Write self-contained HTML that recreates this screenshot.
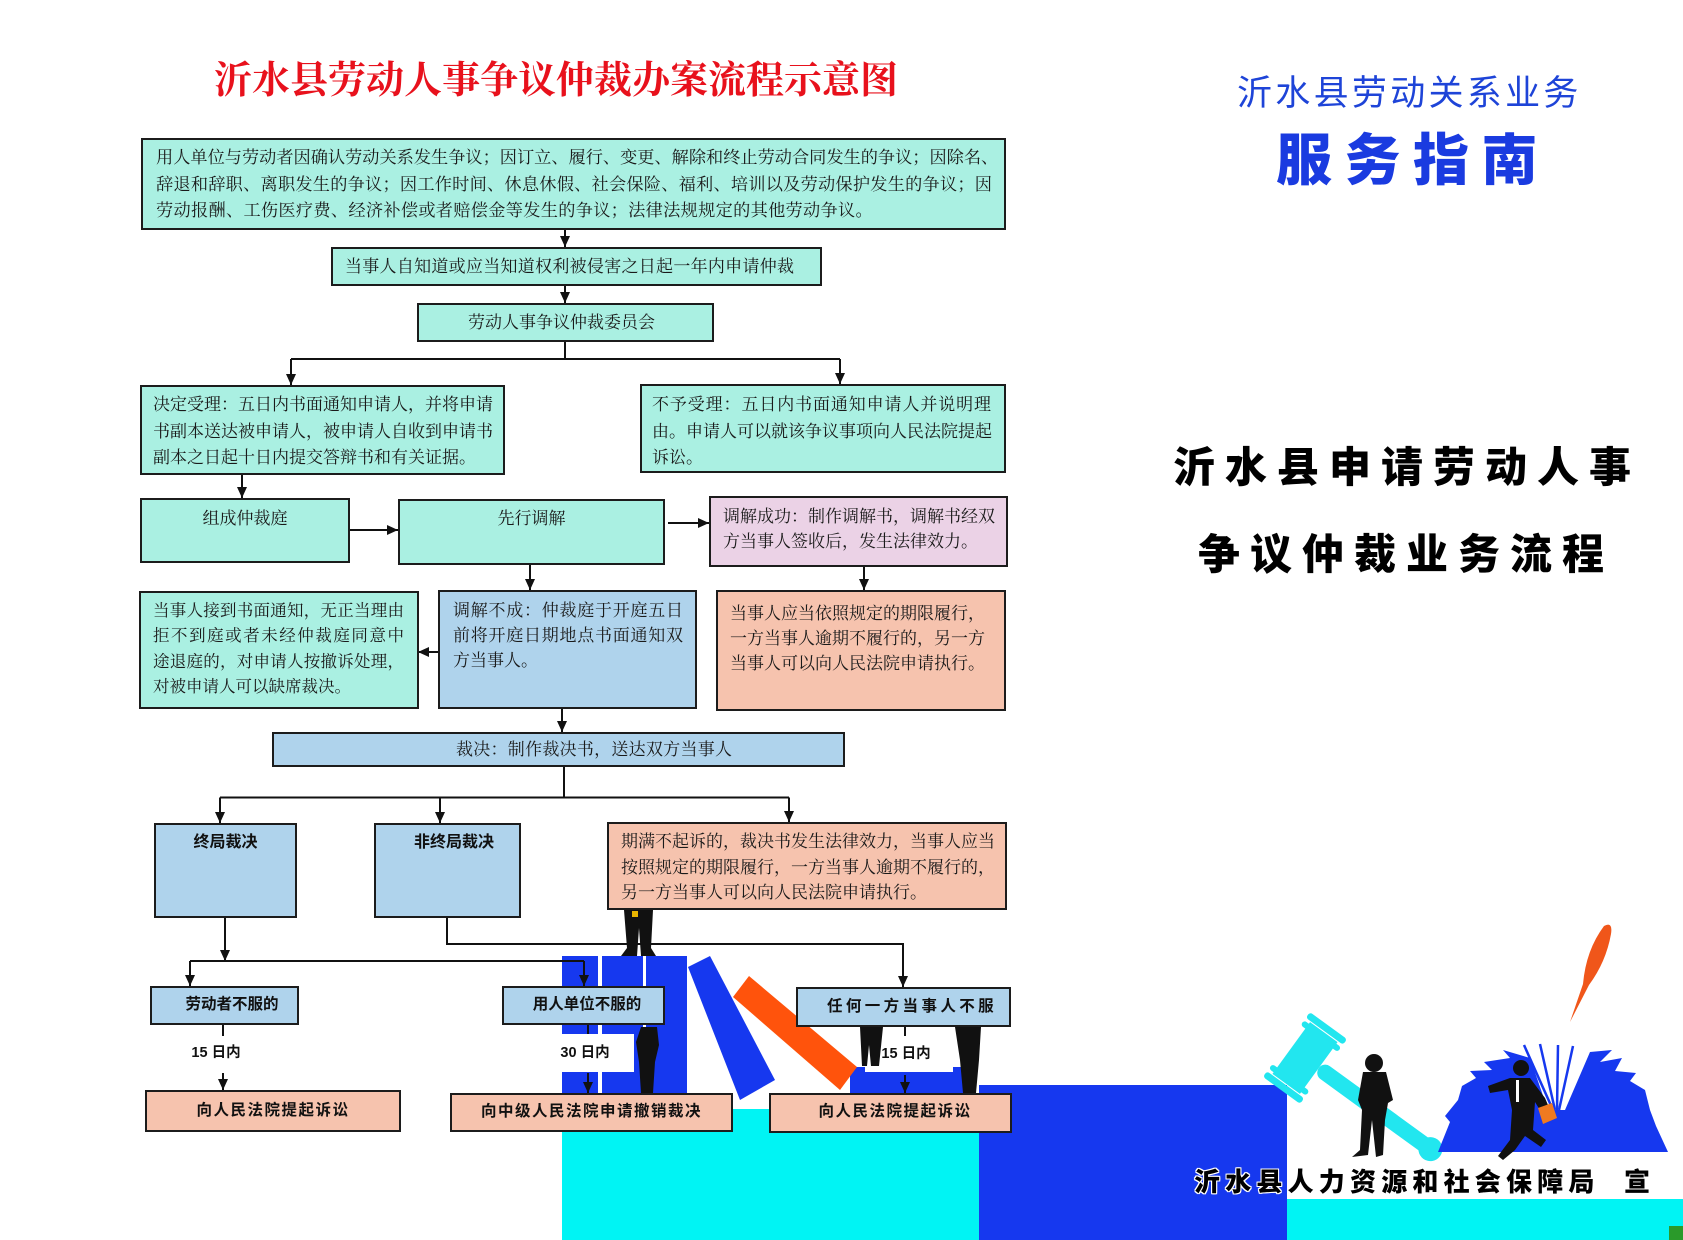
<!DOCTYPE html>
<html><head><meta charset="utf-8">
<style>
html,body{margin:0;padding:0;background:#fff;}
#c{position:relative;width:1683px;height:1240px;overflow:hidden;background:#fff;}
.b{position:absolute;box-sizing:border-box;border:2px solid #1c1c1c;z-index:2;}
.t{background:#aaf0e2;}
.lb{background:#afd3ec;}
.pk{background:#ebd2e6;}
.sa{background:#f6c3ae;}
.ln{position:absolute;z-index:3;white-space:nowrap;text-align:justify;text-align-last:justify;font-family:"Liberation Serif","Noto Serif CJK SC",serif;color:#1a1a1a;font-size:17px;height:26px;line-height:26px;}
.ll{text-align-last:left;}
.cc{text-align:center;text-align-last:center;}
.bd{position:absolute;z-index:3;white-space:nowrap;font-family:"Liberation Sans","Noto Sans CJK SC",sans-serif;font-weight:700;color:#111;font-size:16px;height:24px;line-height:24px;text-align:center;}
svg{position:absolute;left:0;top:0;}
.ti{position:absolute;white-space:nowrap;}
</style></head>
<body><div id="c">

<!-- decoration layer -->
<svg width="1683" height="1240" style="z-index:0">
  <rect x="562" y="1109" width="418" height="131" fill="#00f4f4"/>
  <rect x="1287" y="1199" width="396" height="41" fill="#00f4f4"/>
  <rect x="979" y="1085" width="308" height="155" fill="#1638ef"/>
  <rect x="850" y="1067" width="126" height="26" fill="#1638ef"/>
  <rect x="562" y="956" width="36" height="137" fill="#1638ef"/>
  <rect x="602" y="956" width="41" height="137" fill="#1638ef"/>
  <rect x="646" y="956" width="41" height="137" fill="#1638ef"/>
  <polygon points="688,967 710,956 775,1080 740,1100" fill="#1638ef"/>
  <polygon points="733,997 749,976 857,1067 840,1090" fill="#ff530c"/>
  <!-- white label backgrounds -->
  <rect x="546" y="1034" width="88" height="38" fill="#fff"/>
  <rect x="865" y="1031" width="88" height="41" fill="#fff"/>
  <!-- silhouettes in chart -->
  <path d="M624,910 L653,910 L651,948 L656,956 L641,956 L639,928 L637,956 L621,956 L627,948 Z" fill="#111"/>
  <rect x="632" y="911" width="6" height="6" fill="#e8b400"/>
  <path d="M641,1027 L657,1027 L659,1045 L655,1062 L653,1093 L641,1093 L639,1062 L636,1042 Z" fill="#111"/>
  <path d="M860,1027 L883,1027 L879,1066 L871,1066 L869,1045 L867,1066 L862,1066 Z" fill="#111"/>
  <path d="M955,1027 L981,1027 L979,1060 L976,1093 L963,1093 L960,1060 Z" fill="#111"/>
  <!-- gavel -->
  <g transform="translate(1305,1058) rotate(36)" fill="#22e6ef">
    <rect x="-17" y="-32" width="34" height="64"/>
    <rect x="-23" y="-40" width="46" height="7" rx="3"/>
    <rect x="-23" y="-30" width="46" height="6" rx="3"/>
    <rect x="-23" y="24" width="46" height="6" rx="3"/>
    <rect x="-23" y="33" width="46" height="7" rx="3"/>
    <rect x="17" y="-8" width="140" height="16" rx="8"/>
    <circle cx="155" cy="0" r="12"/>
  </g>
  <!-- woman -->
  <circle cx="1374" cy="1063" r="9" fill="#111"/>
  <path d="M1363,1072 L1386,1072 L1393,1100 L1388,1103 L1385,1120 L1383,1155 L1376,1157 L1372,1120 L1368,1155 L1352,1157 L1360,1150 L1362,1110 L1358,1100 Z" fill="#111"/>
  <!-- book -->
  <path d="M1438,1152 L1450,1122 L1445,1116 L1458,1100 L1462,1086 L1476,1078 L1470,1071 L1492,1070 L1484,1062 L1510,1058 L1503,1050 L1530,1058 L1548,1110 L1565,1110 L1590,1052 L1612,1050 L1600,1062 L1622,1058 L1615,1071 L1636,1073 L1630,1081 L1645,1090 L1650,1110 L1656,1126 L1668,1152 Z" fill="#1638ef"/>
  <g stroke="#1638ef" stroke-width="2.5">
    <line x1="1553" y1="1110" x2="1524" y2="1045"/>
    <line x1="1555" y1="1110" x2="1540" y2="1044"/>
    <line x1="1557" y1="1110" x2="1558" y2="1045"/>
    <line x1="1559" y1="1110" x2="1573" y2="1046"/>
  </g>
  <!-- man -->
  <circle cx="1521" cy="1068" r="8" fill="#111"/>
  <path d="M1510,1078 L1530,1078 L1545,1098 L1551,1112 L1543,1115 L1535,1102 L1533,1130 L1546,1140 L1541,1147 L1525,1136 L1515,1150 L1503,1160 L1498,1156 L1510,1140 L1512,1110 L1508,1090 L1490,1093 L1488,1086 Z" fill="#111"/>
  <rect x="1516" y="1080" width="3" height="22" fill="#fff"/>
  <polygon points="1538,1108 1552,1103 1557,1118 1543,1124" fill="#f07a20"/>
  <!-- feather -->
  <path d="M1570,1022 L1583,984 Q1586,950 1604,926 Q1613,921 1611,934 Q1606,962 1589,985 Z" fill="#f0561a"/>
  <!-- small icon -->
  <rect x="1669" y="1226" width="14" height="14" fill="#2a9a2a"/>
</svg>

<!-- connectors -->
<svg width="1683" height="1240" style="z-index:1">
  <defs><marker id="ar" markerUnits="userSpaceOnUse" markerWidth="11" markerHeight="11" viewBox="0 0 11 10" refX="11" refY="5" orient="auto"><path d="M0,0L11,5L0,10z" fill="#111"/></marker></defs>
  <g stroke="#111" stroke-width="2" fill="none">
    <path d="M565,230V247" marker-end="url(#ar)"/>
    <path d="M565,286V303" marker-end="url(#ar)"/>
    <path d="M565,342V359"/>
    <path d="M291,359H840"/>
    <path d="M291,359V385" marker-end="url(#ar)"/>
    <path d="M840,359V384" marker-end="url(#ar)"/>
    <path d="M242,474V498" marker-end="url(#ar)"/>
    <path d="M350,530H398" marker-end="url(#ar)"/>
    <path d="M668,523H709" marker-end="url(#ar)"/>
    <path d="M864,567V590" marker-end="url(#ar)"/>
    <path d="M530,565V590" marker-end="url(#ar)"/>
    <path d="M438,652H418" marker-end="url(#ar)"/>
    <path d="M562,709V732" marker-end="url(#ar)"/>
    <path d="M564,767V797.5"/>
    <path d="M220,797.5H789"/>
    <path d="M220,797.5V823" marker-end="url(#ar)"/>
    <path d="M440,797.5V823" marker-end="url(#ar)"/>
    <path d="M789,797.5V822" marker-end="url(#ar)"/>
    <path d="M225,918V961" marker-end="url(#ar)"/>
    <path d="M190,961H584"/>
    <path d="M190,961V986" marker-end="url(#ar)"/>
    <path d="M584,961V986" marker-end="url(#ar)"/>
    <path d="M447,918V944H903V987" marker-end="url(#ar)"/>
    <path d="M223,1025V1036"/>
    <path d="M223,1073V1090" marker-end="url(#ar)"/>
    <path d="M588,1025V1034"/>
    <path d="M588,1073V1093" marker-end="url(#ar)"/>
    <path d="M905,1027V1036"/>
    <path d="M905,1075V1093" marker-end="url(#ar)"/>
  </g>
</svg>

<!-- titles -->
<div class="ti" style="left:214px;top:59px;line-height:44px;font-size:38px;font-weight:700;color:#e8111c;font-family:'Liberation Serif','Noto Serif CJK SC',serif;">沂水县劳动人事争议仲裁办案流程示意图</div>
<div class="ti" style="left:1237px;top:73px;line-height:42px;font-size:35px;letter-spacing:3.3px;color:#1e44d8;font-family:'Liberation Sans','Noto Sans CJK SC',sans-serif;">沂水县劳动关系业务</div>
<div class="ti" style="left:1276px;top:130px;line-height:62px;font-size:56px;letter-spacing:12.5px;font-weight:900;color:#1a3be0;font-family:'Liberation Sans','Noto Sans CJK SC',sans-serif;">服务指南</div>
<div class="ti" style="left:1173px;top:443px;line-height:50px;font-size:42px;letter-spacing:10px;font-weight:900;color:#000;font-family:'Liberation Sans','Noto Sans CJK SC',sans-serif;">沂水县申请劳动人事</div>
<div class="ti" style="left:1198px;top:530px;line-height:50px;font-size:42px;letter-spacing:10px;font-weight:900;color:#000;font-family:'Liberation Sans','Noto Sans CJK SC',sans-serif;">争议仲裁业务流程</div>
<div class="ti" style="z-index:3;left:1194px;top:1166px;line-height:32px;font-size:26px;letter-spacing:5.2px;font-weight:900;color:#000;font-family:'Liberation Sans','Noto Sans CJK SC',sans-serif;text-shadow:1px 0 #fff,-1px 0 #fff,0 1px #fff,0 -1px #fff,1px 1px #fff,-1px -1px #fff,1px -1px #fff,-1px 1px #fff;">沂水县人力资源和社会保障局</div>
<div class="ti" style="z-index:3;left:1624px;top:1166px;line-height:32px;font-size:26px;font-weight:900;color:#000;font-family:'Liberation Sans','Noto Sans CJK SC',sans-serif;">宣</div>

<!-- Box1 -->
<div class="b t" style="left:141px;top:138px;width:865px;height:92px;"></div>
<div class="ln" style="left:156px;width:836px;top:145px;font-size:17.2px;">用人单位与劳动者因确认劳动关系发生争议；因订立、履行、变更、解除和终止劳动合同发生的争议；因除名、</div>
<div class="ln" style="left:156px;width:836px;top:171.5px;font-size:17.2px;">辞退和辞职、离职发生的争议；因工作时间、休息休假、社会保险、福利、培训以及劳动保护发生的争议；因</div>
<div class="ln ll" style="left:156px;width:836px;top:197.5px;font-size:17.2px;letter-spacing:0.3px;">劳动报酬、工伤医疗费、经济补偿或者赔偿金等发生的争议；法律法规规定的其他劳动争议。</div>

<!-- Box2 -->
<div class="b t" style="left:331px;top:247px;width:491px;height:39px;"></div>
<div class="ln" style="left:345px;width:449px;top:254px;">当事人自知道或应当知道权利被侵害之日起一年内申请仲裁</div>

<!-- Box3 -->
<div class="b t" style="left:417px;top:303px;width:297px;height:39px;"></div>
<div class="ln" style="left:468px;width:187px;top:310px;">劳动人事争议仲裁委员会</div>

<!-- Box4 -->
<div class="b t" style="left:140px;top:385px;width:365px;height:90px;"></div>
<div class="ln" style="left:153px;width:339px;top:392px;">决定受理：五日内书面通知申请人，并将申请</div>
<div class="ln" style="left:153px;width:339px;top:418.5px;">书副本送达被申请人，被申请人自收到申请书</div>
<div class="ln ll" style="left:153px;width:339px;top:445px;">副本之日起十日内提交答辩书和有关证据。</div>

<!-- Box5 -->
<div class="b t" style="left:640px;top:384px;width:366px;height:89px;"></div>
<div class="ln" style="left:652px;width:339px;top:392px;">不予受理：五日内书面通知申请人并说明理</div>
<div class="ln" style="left:652px;width:339px;top:418.5px;">由。申请人可以就该争议事项向人民法院提起</div>
<div class="ln ll" style="left:652px;width:339px;top:445px;">诉讼。</div>

<!-- Box6 -->
<div class="b t" style="left:140px;top:498px;width:210px;height:65px;"></div>
<div class="ln cc" style="left:140px;width:210px;top:506px;">组成仲裁庭</div>

<!-- Box7 -->
<div class="b t" style="left:398px;top:499px;width:267px;height:66px;"></div>
<div class="ln cc" style="left:398px;width:267px;top:506px;">先行调解</div>

<!-- Box8 -->
<div class="b pk" style="left:709px;top:496px;width:299px;height:71px;"></div>
<div class="ln" style="left:723px;width:270px;top:504px;">调解成功：制作调解书，调解书经双</div>
<div class="ln ll" style="left:723px;width:270px;top:529px;">方当事人签收后，发生法律效力。</div>

<!-- Box9 -->
<div class="b sa" style="left:716px;top:590px;width:290px;height:121px;"></div>
<div class="ln" style="left:730px;width:255px;top:601px;">当事人应当依照规定的期限履行，</div>
<div class="ln" style="left:730px;width:255px;top:626px;">一方当事人逾期不履行的，另一方</div>
<div class="ln ll" style="left:730px;width:255px;top:651px;">当事人可以向人民法院申请执行。</div>

<!-- Box10 -->
<div class="b lb" style="left:438px;top:590px;width:259px;height:119px;"></div>
<div class="ln" style="left:453px;width:230px;top:598px;">调解不成：仲裁庭于开庭五日</div>
<div class="ln" style="left:453px;width:230px;top:623px;">前将开庭日期地点书面通知双</div>
<div class="ln ll" style="left:453px;width:230px;top:648px;">方当事人。</div>

<!-- Box11 -->
<div class="b t" style="left:139px;top:591px;width:280px;height:118px;"></div>
<div class="ln" style="left:153px;width:251px;top:598px;font-size:16.5px;">当事人接到书面通知，无正当理由</div>
<div class="ln" style="left:153px;width:251px;top:623px;font-size:16.5px;">拒不到庭或者未经仲裁庭同意中</div>
<div class="ln" style="left:153px;width:251px;top:648.5px;font-size:16.5px;">途退庭的，对申请人按撤诉处理，</div>
<div class="ln ll" style="left:153px;width:251px;top:674px;font-size:16.5px;">对被申请人可以缺席裁决。</div>

<!-- Box12 -->
<div class="b lb" style="left:272px;top:732px;width:573px;height:35px;"></div>
<div class="ln" style="left:456px;width:276px;top:737px;">裁决：制作裁决书，送达双方当事人</div>

<!-- Box13/14 -->
<div class="b lb" style="left:154px;top:823px;width:143px;height:95px;"></div>
<div class="bd" style="left:154px;width:143px;top:831px;">终局裁决</div>
<div class="b lb" style="left:374px;top:823px;width:147px;height:95px;"></div>
<div class="bd" style="left:384px;width:140px;top:831px;">非终局裁决</div>

<!-- 期满 -->
<div class="b sa" style="left:607px;top:822px;width:400px;height:88px;"></div>
<div class="ln" style="left:621px;width:372px;top:829px;">期满不起诉的，裁决书发生法律效力，当事人应当</div>
<div class="ln" style="left:621px;width:372px;top:855px;">按照规定的期限履行，一方当事人逾期不履行的，</div>
<div class="ln ll" style="left:621px;width:372px;top:880px;">另一方当事人可以向人民法院申请执行。</div>

<!-- second-level -->
<div class="b lb" style="left:150px;top:986px;width:149px;height:39px;"></div>
<div class="bd" style="left:176px;width:112px;top:993px;font-size:15.5px;">劳动者不服的</div>
<div class="b lb" style="left:502px;top:986px;width:163px;height:39px;"></div>
<div class="bd" style="left:522px;width:130px;top:993px;font-size:15.5px;">用人单位不服的</div>
<div class="b lb" style="left:796px;top:987px;width:215px;height:40px;"></div>
<div class="bd" style="left:826px;width:172px;top:995px;font-size:15.5px;letter-spacing:3.4px;">任何一方当事人不服</div>

<div class="bd" style="left:186px;width:60px;top:1041px;font-size:14.5px;">15 日内</div>
<div class="bd" style="left:554px;width:62px;top:1041px;font-size:14.5px;">30 日内</div>
<div class="bd" style="left:876px;width:60px;top:1042px;font-size:14.5px;">15 日内</div>

<div class="b sa" style="left:145px;top:1090px;width:256px;height:42px;"></div>
<div class="bd" style="left:145px;width:256px;top:1099px;font-size:15.5px;letter-spacing:1.5px;">向人民法院提起诉讼</div>
<div class="b sa" style="left:450px;top:1093px;width:283px;height:39px;"></div>
<div class="bd" style="left:450px;width:283px;top:1100px;font-size:15.5px;letter-spacing:1.5px;">向中级人民法院申请撤销裁决</div>
<div class="b sa" style="left:769px;top:1093px;width:243px;height:40px;"></div>
<div class="bd" style="left:769px;width:252px;top:1100px;font-size:15.5px;letter-spacing:1.5px;">向人民法院提起诉讼</div>

</div></body></html>
